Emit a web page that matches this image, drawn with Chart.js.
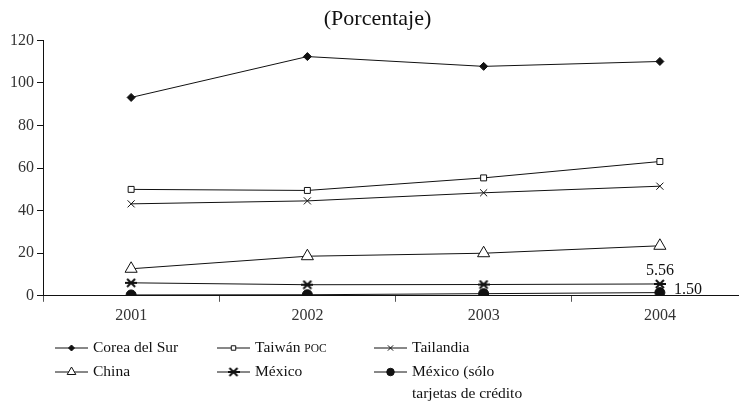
<!DOCTYPE html>
<html>
<head>
<meta charset="utf-8">
<script src="https://cdn.jsdelivr.net/npm/chart.js@4/dist/chart.umd.min.js"></script>
<style>
  html, body { margin: 0; padding: 0; background: #fff; overflow: hidden; }
</style>
</head>
<body>
<!-- a bit wider than the window: the original axis runs past the right edge -->
<canvas id="chart" width="756" height="405"></canvas>
<script>
const years = ['2001', '2002', '2003', '2004'];
const yTicks = [0, 20, 40, 60, 80, 100, 120];

const corea = [93.2, 112.4, 107.8, 110.1];
const taiwan = [50.0, 49.5, 55.4, 63.1];
const tailandia = [43.2, 44.6, 48.4, 51.5];
const china = [12.7, 18.6, 20.0, 23.5];
const mexico = [6.1, 5.2, 5.3, 5.56];
const mexicoTarjetas = [0.4, 0.5, 1.0, 1.50];

const FONT = "'Liberation Serif', 'Times New Roman', serif";
const INK = '#111';

// asterisk marker (X with a horizontal bar), as in the original
const asterisk = document.createElement('canvas');
asterisk.width = 12;
asterisk.height = 10;
(function () {
    const c = asterisk.getContext('2d');
    c.strokeStyle = INK;
    c.lineWidth = 2;
    c.beginPath();
    c.moveTo(2, 1); c.lineTo(10, 9);
    c.moveTo(10, 1); c.lineTo(2, 9);
    c.moveTo(0, 5); c.lineTo(12, 5);
    c.stroke();
})();

function series(label, data, style, radius, fill, width) {
    return {
        label: label,
        data: data,
        borderColor: INK,
        borderWidth: 1,
        pointStyle: style,
        pointRadius: radius,
        pointHoverRadius: radius,
        pointBackgroundColor: fill,
        pointBorderColor: INK,
        pointBorderWidth: width,
        tension: 0
    };
}

const datasets = [
    series('Corea del Sur', corea, 'rectRot', 4, INK, 1),
    series('Taiwán POC', taiwan, 'rect', 4.2, '#fff', 1),
    series('Tailandia', tailandia, 'crossRot', 5, INK, 1),
    series('China', china, 'triangle', 7, '#fff', 1),
    series('México', mexico, asterisk, 5, INK, 1),
    series('México (sólo\ntarjetas de crédito', mexicoTarjetas, 'circle', 5, INK, 1)
];

// legend drawn by hand: 3 columns x 2 rows under the axis
const legendCols = [55, 217, 374];
const legendRows = [348, 372];
const legendPlugin = {
    id: 'gridLegend',
    afterDraw(chart) {
        const ctx = chart.ctx;
        ctx.save();
        chart.data.datasets.forEach((ds, i) => {
            const x = legendCols[i % 3];
            const y = legendRows[Math.floor(i / 3)];
            ctx.strokeStyle = ds.borderColor;
            ctx.lineWidth = 1;
            ctx.beginPath();
            ctx.moveTo(x, y);
            ctx.lineTo(x + 33, y);
            ctx.stroke();
            ctx.fillStyle = ds.pointBackgroundColor;
            ctx.strokeStyle = ds.pointBorderColor;
            ctx.lineWidth = ds.pointBorderWidth;
            Chart.helpers.drawPoint(ctx, {
                pointStyle: ds.pointStyle,
                radius: Math.min(ds.pointRadius * 0.75, 5),
                rotation: 0,
                borderWidth: ds.pointBorderWidth
            }, x + 16.5, y);
            ctx.fillStyle = INK;
            ctx.textBaseline = 'middle';
            ctx.textAlign = 'left';
            const lines = ds.label.split('\n');
            lines.forEach((line, k) => {
                const tx = x + 38;
                const ty = y + k * 22;
                const m = line.match(/^(.*) (POC)$/);
                if (m) {
                    ctx.font = '15.5px ' + FONT;
                    ctx.fillText(m[1] + ' ', tx, ty);
                    const w = ctx.measureText(m[1] + ' ').width;
                    ctx.font = '11.5px ' + FONT;
                    ctx.fillText(m[2], tx + w, ty + 1);
                } else {
                    ctx.font = '15.5px ' + FONT;
                    ctx.fillText(line, tx, ty);
                }
            });
        });
        ctx.restore();
    }
};

// value labels on the last point of the two Mexico series
const endLabelPlugin = {
    id: 'endLabels',
    afterDatasetsDraw(chart) {
        const ctx = chart.ctx;
        ctx.save();
        ctx.font = '16px ' + FONT;
        ctx.fillStyle = INK;
        ctx.textBaseline = 'middle';
        const last = years.length - 1;
        const pm = chart.getDatasetMeta(4).data[last];
        ctx.textAlign = 'center';
        ctx.fillText(mexico[last].toFixed(2), pm.x, pm.y - 13);
        const pt = chart.getDatasetMeta(5).data[last];
        ctx.textAlign = 'left';
        ctx.fillText(mexicoTarjetas[last].toFixed(2), pt.x + 14, pt.y - 3);
        ctx.restore();
    }
};

new Chart(document.getElementById('chart'), {
    type: 'line',
    data: { labels: years, datasets: datasets },
    options: {
        responsive: false,
        animation: false,
        events: [],
        layout: { padding: { left: 0, right: 1, top: 0, bottom: 76 } },
        plugins: {
            legend: { display: false },
            tooltip: { enabled: false },
            title: {
                display: true,
                text: '(Porcentaje)',
                color: INK,
                font: { family: FONT, size: 22, weight: 'normal' },
                padding: { top: 6, bottom: 8 }
            }
        },
        scales: {
            x: {
                offset: true,
                afterFit(scale) { scale.paddingLeft = 0; scale.paddingRight = 0; },
                border: { color: INK, width: 1 },
                grid: { offset: true, drawOnChartArea: false, drawTicks: true, tickLength: 6, color: '#555' },
                ticks: { color: '#333', font: { family: FONT, size: 16 }, padding: 4, maxRotation: 0 }
            },
            y: {
                min: 0,
                max: 120,
                afterFit(scale) { scale.width = 43; },
                afterBuildTicks(scale) { scale.ticks = yTicks.map(v => ({ value: v })); },
                border: { color: INK, width: 1 },
                grid: { drawOnChartArea: false, drawTicks: true, tickLength: 6, color: INK },
                ticks: { color: '#333', font: { family: FONT, size: 16 }, padding: 3 }
            }
        }
    },
    plugins: [legendPlugin, endLabelPlugin]
});
</script>
</body>
</html>
